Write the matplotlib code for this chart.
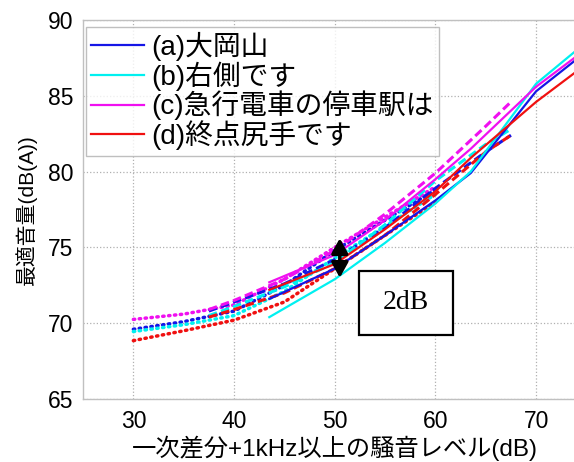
import matplotlib
matplotlib.use("Agg")
import matplotlib.pyplot as plt
from matplotlib.patches import Rectangle

plt.rcParams['font.family'] = ['Liberation Sans', 'Noto Sans CJK JP', 'DejaVu Sans']

labels = ['(a)大岡山', '(b)右側です', '(c)急行電車の停車駅は', '(d)終点尻手です']
colors = ['#1515e6', '#00f0f0', '#f010f0', '#f01010']

# dotted segment
x_dot = [30, 35, 40, 45, 50, 55, 60]
y_dot = {
    'a': [69.6, 70.1, 70.8, 72.5, 74.8, 76.8, 78.8],
    'b': [69.45, 69.9, 70.5, 72.1, 74.3, 76.4, 78.5],
    'c': [70.25, 70.6, 71.2, 72.9, 75.0, 77.0, 79.0],
    'd': [68.85, 69.5, 70.2, 71.4, 73.6, 75.8, 78.0],
}
# dashed segment
x_dash = [37.5, 40, 45, 50, 55, 60, 65, 67.5]
y_dash = {
    'a': [70.8, 71.4, 72.6, 74.2, 76.3, 78.9, 81.3, 82.4],
    'b': [70.5, 71.1, 72.4, 74.0, 76.5, 79.4, 81.8, 82.8],
    'c': [70.9, 71.5, 72.9, 74.8, 77.2, 79.9, 83.0, 84.6],
    'd': [70.4, 70.9, 72.0, 73.6, 75.8, 78.5, 81.3, 82.4],
}
# solid segment
x_sol = [43.5, 50, 55, 60, 63.5, 70, 74]
y_sol = {
    'a': [71.6, 73.6, 75.8, 78.1, 79.9, 85.3, 87.4],
    'b': [70.4, 72.9, 75.3, 77.9, 80.0, 85.8, 88.0],
    'c': [72.7, 74.5, 76.8, 79.5, 81.5, 85.6, 87.6],
    'd': [72.2, 73.9, 76.2, 78.7, 80.9, 84.6, 86.6],
}
keys = ['a', 'b', 'c', 'd']

fig = plt.figure(figsize=(5.74, 4.62), dpi=100)
ax = fig.add_axes([83/574, 63/462, 503.5/574, 379/462])

for k, c in zip(keys, colors):
    ax.plot(x_dot, y_dot[k], color=c, lw=2.5, linestyle=(0, (0.4, 1.3)),
            dash_capstyle='round')
for k, c in zip(keys, colors):
    ax.plot(x_dash, y_dash[k], color=c, lw=2.2, linestyle=(0, (2.8, 1.4)))
handles = []
for k, c, lab in zip(keys, colors, labels):
    h, = ax.plot(x_sol, y_sol[k], color=c, lw=1.6, label=lab)
    handles.append(h)

ax.set_xlim(25, 75)
ax.set_ylim(65, 90)
ax.set_xticks([30, 40, 50, 60, 70])
ax.set_yticks([65, 70, 75, 80, 85, 90])
ax.grid(True, color='#b0b0b0', linestyle=':', lw=0.9)
ax.tick_params(length=0, labelsize=16.5)
ax.tick_params(axis='y', pad=7)
ax.tick_params(axis='x', pad=8)
for s in ax.spines.values():
    s.set_color('#c0c0c0')
    s.set_linewidth(1.0)

ax.set_xlabel('一次差分+1kHz以上の騒音レベル(dB)', fontsize=17.5, labelpad=2)
ax.set_ylabel('最適音量(dB(A))', fontsize=15, labelpad=8)

leg = ax.legend(handles=handles, loc='upper left', fontsize=20,
                bbox_to_anchor=(0.0, 0.99), borderaxespad=0.1,
                handlelength=1.9, handletextpad=0.25, labelspacing=0.0,
                frameon=True, fancybox=False, borderpad=0.2)
leg.get_frame().set_edgecolor('#b0b0b0')
leg.get_frame().set_linewidth(1.0)

ax.annotate('', xy=(50.5, 75.6), xytext=(50.5, 73.0),
            arrowprops=dict(arrowstyle='<|-|>,head_length=0.9,head_width=0.5',
                            color='black', lw=2.5, shrinkA=0, shrinkB=0))

ax.add_patch(Rectangle((52.4, 69.25), 9.3, 4.2, facecolor='white',
                       edgecolor='black', lw=1.6, zorder=5))
ax.text(57.05, 71.35, '2dB', fontsize=20, family='Liberation Serif',
        ha='center', va='center', zorder=6)

fig.savefig('out.png', dpi=100)
